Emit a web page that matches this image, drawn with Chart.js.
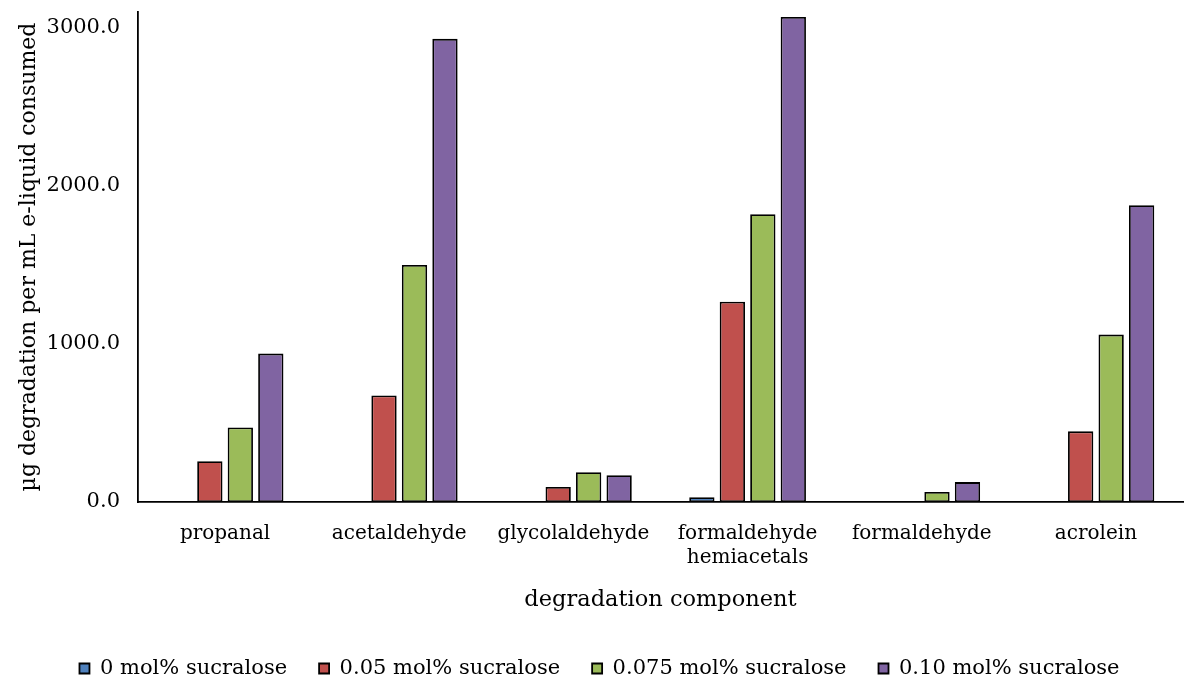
<!DOCTYPE html>
<html>
<head>
<meta charset="utf-8">
<script src="https://cdn.jsdelivr.net/npm/chart.js@4.4.0/dist/chart.umd.min.js"></script>
<style>
  html, body { margin: 0; padding: 0; background: #fff; }
  #wrap { width: 1186px; height: 679px; }
</style>
</head>
<body>
<div id="wrap"><canvas id="myChart" width="1186" height="679"></canvas></div>
<script>
// categories and series
const categories = ['propanal', 'acetaldehyde', 'glycolaldehyde', ['formaldehyde', 'hemiacetals'], 'formaldehyde', 'acrolein'];
const seriesNames = ['0 mol% sucralose', '0.05 mol% sucralose', '0.075 mol% sucralose', '0.10 mol% sucralose'];
const sucralose0 = [3, 3, 6, 30, -6, 3];
const sucralose005 = [258, 674, 95, 1267, 6, 447];
const sucralose0075 = [472, 1500, 189, 1821, 63, 1059];
const sucralose010 = [939, 2930, 170, 3069, 126, 1878];
const yTicks = [0, 1000, 2000, 3000];
const colors = ['#4F81BD', '#C0504D', '#9BBB59', '#8064A2'];

const font = "'DejaVu Serif', serif";
Chart.defaults.font.family = font;
Chart.defaults.color = '#000';

const allValues = [sucralose0, sucralose005, sucralose0075, sucralose010];

const ctx = document.getElementById('myChart').getContext('2d');
const chart = new Chart(ctx, {
  type: 'bar',
  data: {
    labels: categories,
    datasets: allValues.map((vals, i) => ({
      label: seriesNames[i],
      data: vals,
      backgroundColor: colors[i],
      borderColor: '#000',
      borderWidth: 1.8,
      borderSkipped: false,
      categoryPercentage: 0.7,
      barPercentage: 0.83
    }))
  },
  options: {
    responsive: false,
    animation: false,
    layout: { padding: { left: 16, right: 3, top: 12, bottom: -10 } },
    plugins: {
      tooltip: { enabled: false },
      legend: {
        position: 'bottom',
        labels: {
          boxWidth: 10,
          boxHeight: 10,
          padding: 32,
          font: { size: 21 },
          color: '#000'
        }
      }
    },
    scales: {
      x: {
        grid: { display: false, drawTicks: false },
        border: { display: true, color: '#000', width: 1.8 },
        ticks: { font: { size: 20 }, padding: 20, maxRotation: 0, autoSkip: false },
        title: { display: true, text: 'degradation component', font: { size: 22.5 }, padding: { top: 0, bottom: 12 } },
        afterFit: (axis) => { axis.height = 124; }
      },
      y: {
        min: 0,
        max: 3100,
        grid: { display: false, drawTicks: false },
        border: { display: true, color: '#000', width: 1.8 },
        ticks: {
          font: { size: 21 },
          padding: 18,
          callback: (v) => v.toFixed(1)
        },
        afterBuildTicks: (axis) => { axis.ticks = yTicks.map(v => ({ value: v })); },
        title: { display: true, text: 'µg degradation per mL e-liquid consumed', font: { size: 22 }, padding: { top: 0, bottom: 6 } },
        afterFit: (axis) => { axis.width = 122; axis.paddingTop = 0; axis.paddingBottom = 0; }
      }
    }
  }
});
</script>
</body>
</html>
